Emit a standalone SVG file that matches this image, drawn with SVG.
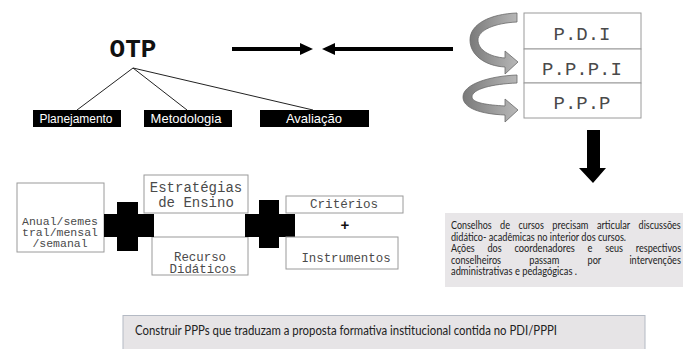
<svg xmlns="http://www.w3.org/2000/svg" width="683" height="349" viewBox="0 0 683 349">
<defs>
<style>
.lbl{fill:#000}
.lt{font-family:"Liberation Sans",Arial,sans-serif;fill:#fff;text-anchor:middle}
.box{fill:#fff;stroke:#9a9a9a;stroke-width:1}
.mono{font-family:"Liberation Mono","Courier New",monospace;fill:#4a4a4a;text-anchor:middle}
.cal{font-family:Lato,"Open Sans","Liberation Sans",sans-serif;font-size:10.5px;fill:#222}
.blk{fill:#000}
.curl{fill:url(#g);stroke:#6a6a6a;stroke-width:0.8}
</style>
<linearGradient id="g" x1="0" y1="0" x2="1" y2="0">
<stop offset="0" stop-color="#7a7a7a"/>
<stop offset="1" stop-color="#b8b8b8"/>
</linearGradient>
</defs>
<rect width="683" height="349" fill="#fff"/>

<g id="connectors" stroke="#222" stroke-width="1" fill="none">
<line x1="133" y1="68" x2="77" y2="110"/>
<line x1="133" y1="68" x2="187" y2="110"/>
<line x1="133" y1="68" x2="313" y2="110"/>
<g fill="#000" stroke="none">
<rect x="232" y="47" width="70" height="4"/>
<polygon points="300,43 313,49 300,55"/>
<rect x="334" y="47" width="119" height="4"/>
<polygon points="335,43 322,49 335,55"/>
<polygon points="587,130 600,130 600,168 606,168 593,183 579,168 587,168"/>
</g>
<path class="curl" d="M517 13 L517 22 C495 23 478 30 478 40 C478 50 490 57 505 58 L505 51 L518 62 L505 74 L505 67 C485 66 470 55 470 40 C470 24 490 14 517 13 Z"/>
<path class="curl" d="M517 75 L517 83 C492 84 472 89 472 97 C472 103 488 105 505 106 L505 99 L518 110 L505 122 L505 115 C480 114 463 108 463 97 C463 84 490 76 517 75 Z"/>
</g>

<g id="otp"><text x="133" y="57" font-family="Liberation Mono,'Courier New',monospace" font-weight="bold" font-size="26" text-anchor="middle" fill="#111">OTP</text></g>

<g id="planejamento"><rect class="lbl" x="33" y="110" width="88" height="17"/><text class="lt" x="76" y="123" font-size="12" textLength="73" lengthAdjust="spacingAndGlyphs">Planejamento</text></g>
<g id="metodologia"><rect class="lbl" x="144" y="110" width="88" height="17"/><text class="lt" x="186" y="123" font-size="13">Metodologia</text></g>
<g id="avaliacao"><rect class="lbl" x="260" y="110" width="109" height="17"/><text class="lt" x="314" y="123" font-size="13">Avaliação</text></g>

<g id="pdi"><rect class="box" x="524" y="13" width="117" height="36"/><text class="mono" x="582" y="40" font-size="19">P.D.I</text></g>
<g id="pppi"><rect class="box" x="524" y="49" width="117" height="34"/><text class="mono" x="582" y="75" font-size="19">P.P.P.I</text></g>
<g id="ppp"><rect class="box" x="524" y="83" width="117" height="35"/><text class="mono" x="582" y="109" font-size="19">P.P.P</text></g>

<g id="anual"><rect class="box" x="17" y="183" width="87" height="69"/>
<text class="mono" x="60" y="225" font-size="11.5">Anual/semes</text>
<text class="mono" x="60" y="236" font-size="11.5">tral/mensal</text>
<text class="mono" x="60" y="247" font-size="11.5">/semanal</text></g>

<g id="estrategias"><rect class="box" x="144" y="175" width="104" height="38"/>
<text class="mono" x="196" y="192" font-size="14">Estratégias</text>
<text class="mono" x="196" y="207" font-size="14">de Ensino</text></g>

<g id="recurso"><rect class="box" x="152" y="237" width="96" height="38"/>
<text class="mono" x="200" y="261" font-size="12.4">Recurso</text>
<text class="mono" x="203" y="273" font-size="12.4">Didáticos</text></g>

<g id="cross1"><rect class="blk" x="117" y="202" width="21" height="49"/><rect class="blk" x="104" y="214" width="50" height="23"/></g>
<g id="cross2"><rect class="blk" x="259" y="200" width="20" height="48"/><rect class="blk" x="245" y="214" width="50" height="23"/></g>

<g id="criterios"><rect class="box" x="286" y="196" width="117" height="17"/>
<text class="mono" x="344" y="208" font-size="12.6">Critérios</text></g>
<g id="plus"><text x="345" y="230" font-family="Liberation Sans,Arial,sans-serif" font-weight="bold" font-size="15" text-anchor="middle" fill="#111">+</text></g>
<g id="instrumentos"><rect class="box" x="286" y="237" width="112" height="32"/>
<text class="mono" x="346" y="262" font-size="12.4">Instrumentos</text></g>

<g id="conselhos"><rect x="445" y="213" width="238" height="74" fill="#e8e6e8"/>
<g class="cal">
<text x="451" y="229" textLength="40.6" lengthAdjust="spacingAndGlyphs">Conselhos</text>
<text x="500" y="229" textLength="10" lengthAdjust="spacingAndGlyphs">de</text>
<text x="518.4" y="229" textLength="25.5" lengthAdjust="spacingAndGlyphs">cursos</text>
<text x="552.3" y="229" textLength="36.2" lengthAdjust="spacingAndGlyphs">precisam</text>
<text x="596.9" y="229" textLength="33.3" lengthAdjust="spacingAndGlyphs">articular</text>
<text x="638.6" y="229" textLength="42.1" lengthAdjust="spacingAndGlyphs">discussões</text>
<text x="451" y="240.5" textLength="175" lengthAdjust="spacingAndGlyphs">didático- acadêmicas no interior dos cursos.</text>
<text x="451" y="252" textLength="23.7" lengthAdjust="spacingAndGlyphs">Ações</text>
<text x="487.5" y="252" textLength="14.1" lengthAdjust="spacingAndGlyphs">dos</text>
<text x="514.4" y="252" textLength="60.4" lengthAdjust="spacingAndGlyphs">coordenadores</text>
<text x="587.6" y="252" textLength="4.9" lengthAdjust="spacingAndGlyphs">e</text>
<text x="605.3" y="252" textLength="17.7" lengthAdjust="spacingAndGlyphs">seus</text>
<text x="635.8" y="252" textLength="45.3" lengthAdjust="spacingAndGlyphs">respectivos</text>
<text x="451" y="263.5" textLength="50.1" lengthAdjust="spacingAndGlyphs">conselheiros</text>
<text x="529.3" y="263.5" textLength="30" lengthAdjust="spacingAndGlyphs">passam</text>
<text x="587.5" y="263.5" textLength="13.7" lengthAdjust="spacingAndGlyphs">por</text>
<text x="629.4" y="263.5" textLength="51.5" lengthAdjust="spacingAndGlyphs">intervenções</text>
<text x="451" y="275" textLength="126" lengthAdjust="spacingAndGlyphs">administrativas e pedagógicas .</text>
</g></g>

<g id="construir"><rect x="123" y="315.5" width="522" height="34" fill="#e6e4e6" stroke="#b4bac4" stroke-width="1"/>
<text class="cal" x="135" y="335" style="font-size:12.5px" textLength="422" lengthAdjust="spacingAndGlyphs">Construir PPPs que traduzam a proposta formativa institucional contida no PDI/PPPI</text></g>
</svg>
